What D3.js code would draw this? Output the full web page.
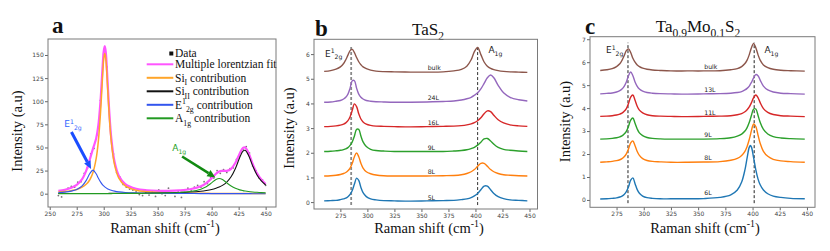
<!DOCTYPE html>
<html>
<head>
<meta charset="utf-8">
<script src="https://cdn.jsdelivr.net/npm/d3@7"></script>
<style>
body { margin: 0; background: #fff; }
svg { display: block; }
.axis text { font-family: "DejaVu Sans", sans-serif; font-size: 6px; fill: #444; }
.axis line { stroke: #666; }
.axis .domain { display: none; }
.serif { font-family: "Liberation Serif", "Times New Roman", serif; fill: #111; }
.sans { font-family: "DejaVu Sans", sans-serif; fill: #222; }
</style>
</head>
<body>
<script>
// ---- panel a : fit of one spectrum
var ramanA = [258,264,270,275,280,284,287,290,293,295,297,299,300,301,302,303,305,307,310,314,320,330,340,350,360,370,380,390,395,400,404,407,410,414,418,422,426,429,431,434,438,442,446,450];
var fitA   = [3.1,4.3,6.4,9.5,15.7,25.4,36.6,48.5,59.7,73.6,99.7,137.8,154.0,159.7,152.1,133.9,91.6,60.4,34.7,19.4,10.4,5.3,3.6,3.0,3.0,3.5,4.8,8.1,11.5,16.7,21.6,24.1,24.7,24.7,26.9,33.4,43.5,49.5,50.0,44.5,32.2,22.0,15.3,10.5];
var siIA   = [1.7,2.3,3.3,4.6,7.0,10.4,14.8,22.6,37.8,56.3,86.6,127.8,145.2,152,145.2,127.8,86.6,56.3,31.5,16.9,8.4,3.7,2.1,1.3,0.9,0.7,0.5,0.4,0.4,0.3,0.3,0.3,0.3,0.3,0.2,0.2,0.2,0.2,0.2,0.2,0.2,0.2,0.2,0.2];
var siIIA  = [0.2,0.2,0.2,0.2,0.2,0.2,0.2,0.2,0.2,0.2,0.2,0.2,0.2,0.2,0.2,0.2,0.3,0.3,0.3,0.3,0.4,0.5,0.6,0.7,0.9,1.3,1.8,2.7,3.5,4.6,5.9,7.2,9.0,12.6,18.3,27.3,39.1,46.0,46.9,41.9,30.1,20.2,13.8,9.4];
var e2gA   = [1.2,1.7,2.8,4.6,8.4,14.7,21.5,25.5,21.5,16.9,12.8,9.6,8.4,7.4,6.5,5.7,4.6,3.7,2.8,2.0,1.3,0.8,0.5,0.3,0.3,0.2,0.2,0.1,0.1,0.1,0.1,0.1,0.1,0.1,0.1,0.1,0.1,0.1,0.1,0.1,0.0,0.0,0.0,0.0];
var a1gA   = [0.1,0.1,0.1,0.1,0.1,0.1,0.1,0.1,0.1,0.1,0.1,0.1,0.1,0.1,0.1,0.1,0.1,0.1,0.2,0.2,0.3,0.3,0.4,0.6,0.9,1.3,2.4,4.9,7.5,11.7,15.4,16.5,15.4,11.7,8.3,5.8,4.1,3.3,2.9,2.4,1.9,1.5,1.2,1.0];
var dataXA = [258,261,264,267,270,273,276,279,282,285,288,291,294,297,300,303,306,309,312,315,318,321,324,327,330,333,336,339,342,345,348,351,354,357,360,363,366,369,372,375,378,381,384,387,390,393,396,399,402,405,408,411,414,417,420,423,426,429,432,435,438,441,444,447,450];
var dataYA = [-2,-3.5,2.5,6,8,7,12.5,13,22,28,43,49,64,101,151,137,73,43,23,18,10,7,5,4,2,-1,-2,1,-1.5,2,-3,4,0,-2,6,1,-3,2,-4,1,6,3,7,9,7,13,11,18,17,25,22,26,23,27,28,37,41,48,51,44,30,25,17,15,9];
var ticksXA = [250,275,300,325,350,375,400,425,450];
var ticksYA = [0,25,50,75,100,125,150];
// arrows: [tail x, tail y, tip x, tip y] in data units
var arrowE = [270.1, 66.7, 288.3, 26.7];
var arrowA = [372.6, 40.2, 403.4, 17.6];

// ---- panel b : TaS2
var ramanB = [260,266,271,275,278,280,282,284,286,288,290,292,294,296,299,303,308,315,325,340,355,370,380,387,392,396,399,402,405,408,411,414,417,421,426,432,440,448];
var b5L   = [0.05,0.06,0.07,0.10,0.13,0.16,0.22,0.31,0.47,0.73,0.97,0.88,0.59,0.38,0.22,0.13,0.09,0.06,0.05,0.04,0.05,0.06,0.07,0.10,0.13,0.18,0.25,0.35,0.50,0.65,0.65,0.50,0.35,0.22,0.14,0.09,0.07,0.05];
var b8L   = [1.06,1.07,1.09,1.12,1.16,1.20,1.27,1.38,1.57,1.84,1.99,1.84,1.57,1.38,1.23,1.15,1.10,1.07,1.06,1.06,1.06,1.07,1.08,1.11,1.16,1.23,1.32,1.45,1.57,1.57,1.45,1.32,1.23,1.16,1.11,1.09,1.07,1.06];
var b9L   = [2.05,2.06,2.08,2.10,2.13,2.16,2.21,2.30,2.44,2.68,2.95,2.95,2.68,2.44,2.25,2.14,2.09,2.07,2.05,2.05,2.05,2.05,2.07,2.09,2.12,2.17,2.22,2.31,2.43,2.56,2.58,2.48,2.35,2.22,2.14,2.10,2.07,2.05];
var b16L  = [3.06,3.07,3.09,3.12,3.16,3.21,3.30,3.46,3.72,3.98,3.87,3.58,3.37,3.25,3.16,3.11,3.08,3.07,3.06,3.05,3.06,3.07,3.08,3.10,3.13,3.17,3.22,3.30,3.42,3.58,3.70,3.67,3.52,3.34,3.21,3.13,3.09,3.07];
var b24L  = [4.05,4.06,4.09,4.12,4.18,4.25,4.38,4.62,4.92,4.92,4.62,4.38,4.25,4.18,4.12,4.09,4.07,4.06,4.05,4.05,4.06,4.08,4.10,4.14,4.19,4.25,4.33,4.43,4.59,4.81,5.04,5.15,5.04,4.73,4.43,4.25,4.15,4.10];
var bBulk = [5.30,5.33,5.39,5.48,5.62,5.77,5.96,6.14,6.19,6.06,5.86,5.69,5.57,5.48,5.41,5.35,5.31,5.29,5.28,5.27,5.27,5.28,5.32,5.38,5.51,5.77,6.10,6.27,5.98,5.68,5.51,5.42,5.37,5.33,5.30,5.28,5.27,5.26];
var layersB = ['5L','8L','9L','16L','24L','bulk'];
var labelLevelB = [0.19,1.21,2.20,3.22,4.23,5.45];
var peaksB = [285, 402];

// ---- panel c : Ta0.9Mo0.1S2
var ramanC = [260,266,271,275,278,280,282,284,286,288,290,292,294,296,299,303,308,315,325,340,355,370,380,386,390,393,395,397,398,399,401,403,405,407,410,414,419,426,435,448];
var c6L   = [0.04,0.05,0.07,0.09,0.13,0.17,0.24,0.36,0.57,0.86,0.96,0.71,0.45,0.29,0.17,0.10,0.07,0.05,0.05,0.05,0.06,0.11,0.22,0.43,0.78,1.31,1.83,2.30,2.37,2.30,1.83,1.31,0.92,0.66,0.43,0.27,0.17,0.11,0.07,0.05];
var c8L   = [1.64,1.66,1.68,1.71,1.75,1.80,1.88,2.01,2.22,2.49,2.57,2.36,2.11,1.94,1.80,1.72,1.68,1.66,1.64,1.64,1.65,1.67,1.73,1.81,1.94,2.12,2.33,2.64,2.83,3.03,3.31,3.20,2.83,2.47,2.12,1.90,1.77,1.70,1.67,1.64];
var c9L   = [2.65,2.66,2.68,2.71,2.75,2.79,2.87,2.99,3.21,3.48,3.57,3.34,3.09,2.92,2.80,2.72,2.68,2.66,2.65,2.65,2.65,2.67,2.71,2.78,2.87,3.00,3.15,3.38,3.53,3.69,3.96,3.96,3.69,3.38,3.07,2.87,2.76,2.70,2.67,2.65];
var c11L  = [3.64,3.65,3.67,3.70,3.74,3.78,3.86,3.98,4.20,4.48,4.57,4.34,4.08,3.91,3.79,3.71,3.67,3.65,3.64,3.63,3.64,3.65,3.67,3.71,3.76,3.84,3.93,4.05,4.14,4.24,4.46,4.57,4.46,4.24,3.98,3.81,3.72,3.67,3.65,3.63];
var c13L  = [4.62,4.64,4.66,4.70,4.76,4.83,4.95,5.14,5.41,5.57,5.41,5.14,4.95,4.83,4.74,4.68,4.65,4.63,4.62,4.61,4.62,4.63,4.65,4.68,4.72,4.79,4.86,4.96,5.04,5.12,5.32,5.46,5.41,5.22,4.96,4.79,4.70,4.65,4.63,4.61];
var cBulk = [5.64,5.67,5.72,5.81,5.93,6.08,6.28,6.50,6.58,6.42,6.17,6.00,5.88,5.81,5.74,5.69,5.66,5.64,5.62,5.62,5.62,5.63,5.67,5.72,5.81,5.94,6.09,6.33,6.49,6.63,6.82,6.63,6.33,6.09,5.88,5.76,5.69,5.65,5.63,5.61];
var layersC = ['6L','8L','9L','11L','13L','bulk'];
var labelLevelC = [0.32,1.82,2.83,3.80,4.79,5.81];
var peaksC = [285.5, 401.5];

var ticksXB = [275,300,325,350,375,400,425,450];
var layerColors = ['#1f77b4','#ff7f0e','#2ca02c','#d62728','#9467bd','#8c564b'];

var svg = d3.select('body').append('svg')
  .attr('width', 830)
  .attr('height', 251);

// text with sub/superscript pieces: [text, 'sub'|'sup'|null]
function rich(sel, parts, size) {
  var cur = 0;
  parts.forEach(function(p) {
    var s = p[1] === 'sub' ? size * 0.3 : (p[1] === 'sup' ? -size * 0.4 : 0);
    var t = sel.append('tspan').attr('dy', s - cur).text(p[0]);
    if (p[1]) t.attr('font-size', size * 0.68);
    cur = s;
  });
  return sel;
}

function makePanel(p) {
  var x = d3.scaleLinear().domain(p.xDomain).range(p.xRange);
  var y = d3.scaleLinear().domain(p.yDomain).range(p.yRange);
  var g = svg.append('g');

  g.append('g').attr('class', 'axis')
    .attr('transform', 'translate(0,' + p.yRange[0] + ')')
    .call(d3.axisBottom(x).tickValues(p.xTicks).tickSize(3).tickPadding(1.3).tickFormat(d3.format('d')));
  g.append('g').attr('class', 'axis')
    .attr('transform', 'translate(' + p.xRange[0] + ',0)')
    .call(d3.axisLeft(y).tickValues(p.yTicks).tickSize(3).tickPadding(1.3).tickFormat(d3.format('d')));

  // y label
  g.append('text').attr('class', 'serif')
    .attr('transform', 'translate(' + p.yLabelX + ',' + p.yLabelY + ') rotate(-90)')
    .attr('text-anchor', 'middle')
    .attr('font-size', 14.5)
    .text('Intensity (a.u)');
  // x label
  rich(g.append('text').attr('class', 'serif')
    .attr('x', p.xLabelX).attr('y', 233)
    .attr('text-anchor', 'middle')
    .attr('font-size', 14.5), [['Raman shift (cm'], ['-1', 'sup'], [')']], 14.5);

  // panel letter
  g.append('text').attr('class', 'serif')
    .attr('x', p.letterX).attr('y', p.letterY)
    .attr('font-size', 23).attr('font-weight', 'bold')
    .text(p.letter);

  var plot = g.append('g');
  g.frame = function() {
    g.append('rect')
      .attr('x', p.xRange[0]).attr('y', p.yRange[1])
      .attr('width', p.xRange[1] - p.xRange[0])
      .attr('height', p.yRange[0] - p.yRange[1])
      .attr('fill', 'none').attr('stroke', '#7a7a7a').attr('stroke-width', 1);
  };
  return {x: x, y: y, g: g, plot: plot};
}

function curve(pn, xs, vals, color, w) {
  var line = d3.line()
    .x(function(d, i) { return pn.x(xs[i]); })
    .y(function(d) { return pn.y(d); })
    .curve(d3.curveCatmullRom.alpha(0.5));
  pn.plot.append('path')
    .attr('d', line(vals))
    .attr('fill', 'none')
    .attr('stroke', color)
    .attr('stroke-width', w);
}

function arrow(pn, a, color, w) {
  var x1 = pn.x(a[0]), y1 = pn.y(a[1]), x2 = pn.x(a[2]), y2 = pn.y(a[3]);
  var ang = Math.atan2(y2 - y1, x2 - x1), hl = 8, hw = 3.6;
  var bx = x2 - hl * Math.cos(ang), by = y2 - hl * Math.sin(ang);
  pn.plot.append('line')
    .attr('x1', x1).attr('y1', y1).attr('x2', bx).attr('y2', by)
    .attr('stroke', color).attr('stroke-width', w);
  pn.plot.append('path')
    .attr('d', 'M' + x2 + ',' + y2 +
      'L' + (bx + hw * Math.sin(ang)) + ',' + (by - hw * Math.cos(ang)) +
      'L' + (bx - hw * Math.sin(ang)) + ',' + (by + hw * Math.cos(ang)) + 'Z')
    .attr('fill', color);
}

// ================= panel a
var pa = makePanel({
  xDomain: [248.4, 459.6], xRange: [48, 276],
  yDomain: [-14.4, 167.3], yRange: [207, 39],
  xTicks: ticksXA, yTicks: ticksYA,
  yLabelX: 22, yLabelY: 131, xLabelX: 165,
  letter: 'a', letterX: 52, letterY: 33
});

pa.plot.selectAll('circle.pt')
  .data(dataYA)
  .enter().append('circle')
  .attr('class', 'pt')
  .attr('cx', function(d, i) { return pa.x(dataXA[i]); })
  .attr('cy', function(d) { return pa.y(d); })
  .attr('r', 0.9)
  .attr('fill', '#555')
  .attr('opacity', 0.8);

curve(pa, ramanA, fitA, '#ff55ff', 2.2);
curve(pa, ramanA, siIA, '#ffa52a', 1.5);
curve(pa, ramanA, siIIA, '#111', 1.1);
curve(pa, ramanA, e2gA, '#3355ee', 1.1);
curve(pa, ramanA, a1gA, '#229a22', 1.1);

arrow(pa, arrowE, '#1a4dff', 3);
arrow(pa, arrowA, '#118a11', 2.6);

rich(pa.plot.append('text').attr('class', 'sans')
  .attr('x', pa.x(263.5)).attr('y', pa.y(72))
  .attr('font-size', 9).style('fill', '#3366ff'),
  [['E'], ['1', 'sup'], ['2g', 'sub']], 9);
rich(pa.plot.append('text').attr('class', 'sans')
  .attr('x', pa.x(363.5)).attr('y', pa.y(46))
  .attr('font-size', 9).style('fill', '#22a022'),
  [['A'], ['1g', 'sub']], 9);

// legend
var legendItems = [
  {parts: [['Multiple lorentzian fit']], color: '#ff55ff'},
  {parts: [['Si'], ['I', 'sub'], [' contribution']], color: '#ffa52a'},
  {parts: [['Si'], ['II', 'sub'], [' contribution']], color: '#111'},
  {parts: [['E'], ['1', 'sup'], ['2g', 'sub'], [' contribution']], color: '#3355ee'},
  {parts: [['A'], ['1g', 'sub'], [' contribution']], color: '#229a22'}
];
var lg = pa.g.append('g');
lg.append('rect').attr('x', 169.3).attr('y', 51.5).attr('width', 4).attr('height', 4).attr('fill', '#111');
lg.append('text').attr('class', 'serif').attr('x', 175).attr('y', 57)
  .attr('font-size', 11.5).text('Data');
legendItems.forEach(function(it, i) {
  var ly = 64.3 + i * 13.5;
  lg.append('line').attr('x1', 146.7).attr('x2', 173.3).attr('y1', ly).attr('y2', ly)
    .attr('stroke', it.color).attr('stroke-width', 2);
  rich(lg.append('text').attr('class', 'serif').attr('x', 175).attr('y', ly + 3.8)
    .attr('font-size', 11.5), it.parts, 11.5);
});
pa.g.frame();

// ================= panels b and c
function stackPanel(cfg) {
  var pn = makePanel(cfg);
  cfg.peaks.forEach(function(v, i) {
    pn.plot.append('line')
      .attr('x1', pn.x(v)).attr('x2', pn.x(v))
      .attr('y1', pn.y(cfg.dashRange[0])).attr('y2', pn.y(cfg.dashRange[1]))
      .attr('stroke', cfg.dashColors[i]).attr('stroke-width', cfg.dashWidths[i])
      .attr('stroke-dasharray', '3,2');
  });
  cfg.series.forEach(function(s, i) {
    curve(pn, cfg.xs, s, layerColors[i], 1.4);
    pn.plot.append('text').attr('class', 'sans')
      .attr('x', pn.x(cfg.labelX)).attr('y', pn.y(cfg.labelLevels[i]))
      .attr('dy', '0.35em')
      .attr('font-size', 6.2)
      .text(cfg.layers[i]);
  });
  rich(pn.plot.append('text').attr('class', 'sans')
    .attr('x', pn.x(cfg.eLabel[0])).attr('y', pn.y(cfg.eLabel[1]))
    .attr('font-size', 9), [['E'], ['1', 'sup'], ['2g', 'sub']], 9);
  rich(pn.plot.append('text').attr('class', 'sans')
    .attr('x', pn.x(cfg.aLabel[0])).attr('y', pn.y(cfg.aLabel[1]))
    .attr('font-size', 9), [['A'], ['1g', 'sub']], 9);
  rich(pn.g.append('text').attr('class', 'serif')
    .attr('x', cfg.titleX).attr('y', cfg.titleY)
    .attr('text-anchor', 'middle')
    .attr('font-size', 17), cfg.title, 17);
  pn.g.frame();
  return pn;
}

stackPanel({
  xDomain: [250.6, 457.4], xRange: [314, 537.5],
  yDomain: [-0.28, 6.6], yRange: [209, 39.3],
  xTicks: ticksXB, yTicks: [0,1,2,3,4,5,6],
  yLabelX: 294, yLabelY: 128, xLabelX: 429,
  letter: 'b', letterX: 315, letterY: 36,
  xs: ramanB, series: [b5L, b8L, b9L, b16L, b24L, bBulk],
  layers: layersB, labelLevels: labelLevelB, labelX: 355.8,
  peaks: peaksB, dashRange: [-0.12, 6.36],
  dashColors: ['#8a8a8a', '#333'], dashWidths: [1.8, 1],
  eLabel: [260.8, 5.9], aLabel: [412, 6.04],
  title: [['TaS'], ['2', 'sub']], titleX: 428, titleY: 34.5
});

stackPanel({
  xDomain: [250.6, 457.4], xRange: [590, 815],
  yDomain: [-0.32, 7.11], yRange: [207.3, 36.7],
  xTicks: ticksXB, yTicks: [0,1,2,3,4,5,6,7],
  yLabelX: 570, yLabelY: 121.5, xLabelX: 705,
  letter: 'c', letterX: 585, letterY: 34,
  xs: ramanC, series: [c6L, c8L, c9L, c11L, c13L, cBulk],
  layers: layersC, labelLevels: labelLevelC, labelX: 355.6,
  peaks: peaksC, dashRange: [-0.14, 6.85],
  dashColors: ['#222', '#222'], dashWidths: [1, 1],
  eLabel: [265.3, 6.39], aLabel: [410.9, 6.39],
  title: [['Ta'], ['0.9', 'sub'], ['Mo'], ['0.1', 'sub'], ['S'], ['2', 'sub']], titleX: 698, titleY: 32
});
</script>
</body>
</html>
